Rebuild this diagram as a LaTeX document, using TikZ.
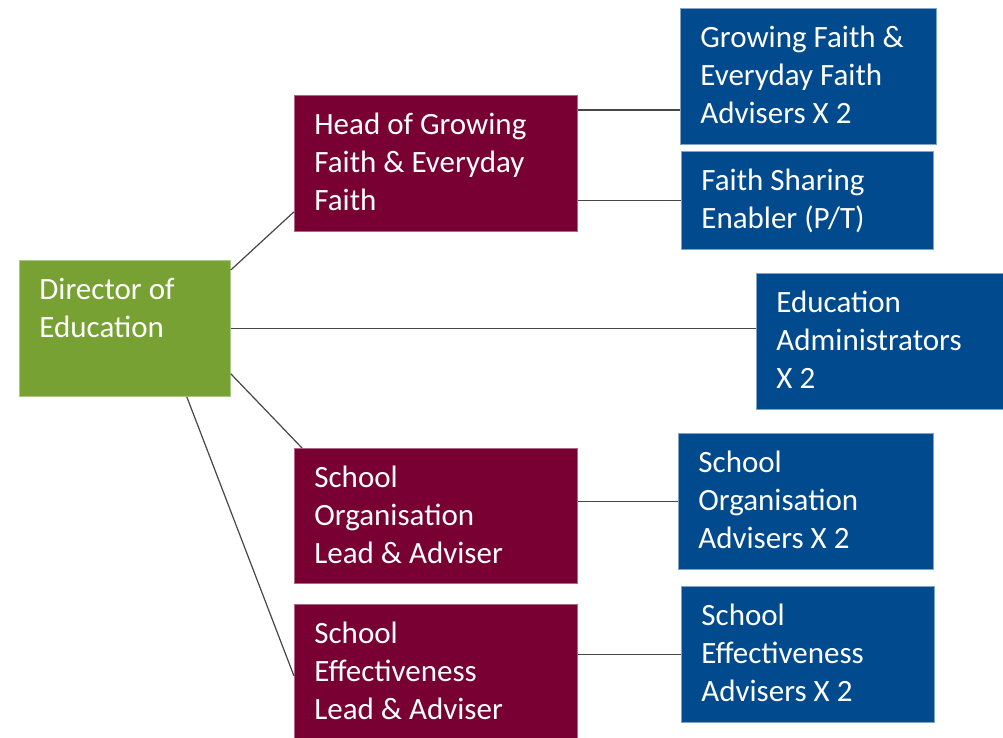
\documentclass[tikz,border=0pt]{standalone}
\usepackage{fontspec}
\setmainfont{Carlito}
\usepackage{xcolor}

\definecolor{dirgreen}{RGB}{119,161,51}
\definecolor{leadred}{RGB}{120,0,50}
\definecolor{advblue}{RGB}{0,74,141}
\definecolor{linegray}{RGB}{70,70,70}

% text set at the top of a box of given width and height
\newcommand{\unitbox}[3]{\parbox[b][#2][t]{#1}{\raggedright\leftskip=20pt\rule{0pt}{39pt}#3}}

\tikzset{
  unit/.style={anchor=north west, inner sep=0pt, text=white, line width=0.8pt,
    font=\fontsize{31}{38}\selectfont},
  director/.style={unit, fill=dirgreen, draw=dirgreen!60!white},
  lead/.style={unit, fill=leadred, draw=leadred!60!white},
  adviser/.style={unit, fill=advblue, draw=advblue!50!white},
  link/.style={draw=linegray, line width=1.2pt}
}

\begin{document}
\begin{tikzpicture}[x=1pt,y=-1pt]
        \useasboundingbox (0,0) rectangle (1003,738);

        \node[director] (dir) at (19,260) {\unitbox{211pt}{136pt}{Director of\\Education}}; %director
        \node[lead] (head) at (294,95) {\unitbox{283pt}{136pt}{Head of Growing\\Faith \& Everyday\\Faith}}; %head gf
        \node[lead] (orglead) at (294,448) {\unitbox{283pt}{135pt}{School\\Organisation\\Lead \& Adviser}}; %org lead
        \node[lead] (efflead) at (294,604) {\unitbox{283pt}{134pt}{School\\Effectiveness\\Lead \& Adviser}}; %eff lead

        \node[adviser] (gfadv) at (680,8) {\unitbox{256pt}{136pt}{Growing Faith \&\\Everyday Faith\\Advisers X 2}}; %gf advisers
        \node[adviser] (enabler) at (681,151) {\unitbox{252pt}{98pt}{Faith Sharing\\Enabler (P/T)}}; %enabler
        \node[adviser] (admin) at (756,273) {\unitbox{247pt}{136pt}{Education\\Administrators\\X 2}}; %admin
        \node[adviser] (orgadv) at (678,433) {\unitbox{255pt}{136pt}{School\\Organisation\\Advisers X 2}}; %org advisers
        \node[adviser] (effadv) at (681,586) {\unitbox{253pt}{136pt}{School\\Effectiveness\\Advisers X 2}}; %eff advisers

        \draw[link] ([yshift=-10pt]dir.north east) -- ([yshift=20pt]head.south west);
        \draw[link] (dir.east) -- (dir.east -| admin.west);
        \draw[link] ([yshift=23pt]dir.south east) -- ([xshift=8pt]orglead.north west);
        \draw[link] ([xshift=-44pt]dir.south east) -- ([yshift=-72pt]efflead.north west);

        \draw[link] ([yshift=-15pt]head.north east) -- ([yshift=-15pt]head.north east -| gfadv.west);
        \draw[link] (head.east |- enabler.west) -- (enabler.west);
        \draw[link] (orgadv.west -| orglead.east) -- (orgadv.west);
        \draw[link] (effadv.west -| efflead.east) -- (effadv.west);
    \end{tikzpicture}
\end{document}
